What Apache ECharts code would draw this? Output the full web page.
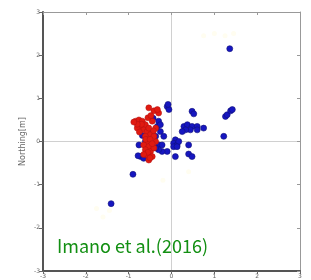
<!DOCTYPE html>
<html><head><meta charset="utf-8">
<script src="https://cdn.jsdelivr.net/npm/echarts@6/dist/echarts.min.js"></script>
<style>html,body{margin:0;padding:0;background:#fff}#c{width:311px;height:280px}</style>
</head><body><div id="c"></div>
<script>
var ticks = [-3, -2, -1, 0, 1, 2, 3];
var yName = 'Northing[m]';
var caption = 'Imano et al.(2016)';
var bluePoints = [
  [1.36,2.15],[-1.41,-1.44],[-0.90,-0.76],[1.22,0.12],
  [1.26,0.58],[1.30,0.62],[1.38,0.71],[1.42,0.74],
  [0.48,0.70],[0.52,0.64],
  [0.29,0.35],[0.37,0.39],[0.48,0.35],[0.60,0.35],[0.60,0.27],[0.44,0.27],[0.33,0.27],[0.25,0.23],[0.75,0.31],
  [0.09,0.04],[0.05,-0.04],[0.13,-0.08],[0.05,-0.12],[0.17,0.0],[0.13,-0.12],[0.40,-0.08],
  [-0.10,-0.23],[-0.22,-0.23],[0.09,-0.35],[0.40,-0.29],[0.48,-0.35],
  [-0.10,0.81],[-0.06,0.74],[-0.08,0.86],
  [-0.30,0.47],[-0.33,0.35],[-0.26,0.23],[-0.18,0.12],[-0.45,0.20],[-0.26,0.39],[-0.43,0.54],
  [-0.76,-0.08],[-0.72,-0.35],[-0.65,-0.39],[-0.30,-0.08],[-0.22,-0.08],[-0.30,-0.19],[-0.37,-0.15],[-0.37,0.12],
  [-0.61,0.0],[-0.68,0.14],[-0.78,-0.33]
];
var redPoints = [
  [-0.53,0.78],[-0.41,0.71],[-0.30,0.66],[-0.33,0.74],
  [-0.84,0.47],[-0.76,0.50],[-0.68,0.47],[-0.72,0.35],[-0.80,0.31],[-0.61,0.39],[-0.65,0.27],[-0.57,0.23],
  [-0.53,0.31],[-0.45,0.47],[-0.49,0.16],[-0.61,0.12],[-0.57,0.0],[-0.65,-0.08],[-0.53,-0.12],[-0.61,-0.19],
  [-0.49,-0.23],[-0.57,-0.31],[-0.45,-0.35],[-0.53,-0.43],[-0.41,-0.15],[-0.37,0.0],[-0.41,0.12],[-0.37,0.31],
  [-0.70,0.40],[-0.75,0.22],[-0.60,0.05],[-0.50,0.05],[-0.45,-0.05],[-0.55,-0.25],[-0.65,-0.30],[-0.50,-0.38],
  [-0.42,0.25],[-0.80,0.40],[-0.88,0.45],[-0.55,0.55],[-0.48,0.60]
];
var faintPoints = [
  [0.75,2.45],[1.0,2.5],[1.25,2.45],[1.45,2.5],
  [-1.75,-1.55],[-1.6,-1.75],[-1.45,-1.6],[-0.2,-0.9],[0.4,-0.7]
];
var chart = echarts.init(document.getElementById('c'), null, {renderer: 'canvas'});
var splitColors = ticks.map(function (t) { return t === 0 ? '#d0d0d0' : 'rgba(0,0,0,0)'; });
var labelStyle = {fontSize: 6, color: '#666', fontFamily: 'DejaVu Sans'};
chart.setOption({
  animation: false,
  backgroundColor: '#fff',
  grid: {left: 43, right: 11, top: 12, bottom: 9},
  xAxis: [{
    type: 'value', min: -3, max: 3, interval: 1, position: 'bottom',
    axisLine: {onZero: false, lineStyle: {color: '#555', width: 2}},
    axisTick: {show: true, inside: false, length: 3, lineStyle: {color: '#666'}},
    axisLabel: Object.assign({margin: 2}, labelStyle),
    splitLine: {show: true, lineStyle: {color: splitColors, width: 1}}
  }, {
    type: 'value', min: -3, max: 3, interval: 1, position: 'top',
    axisLine: {show: true, onZero: false, lineStyle: {color: '#999', width: 1}},
    axisTick: {show: true, inside: true, length: 3, lineStyle: {color: '#999'}},
    axisLabel: {show: false}, splitLine: {show: false}
  }],
  yAxis: [{
    type: 'value', min: -3, max: 3, interval: 1, position: 'left',
    name: yName, nameLocation: 'middle', nameGap: 16, nameRotate: 90, nameMoveOverlap: false,
    nameTextStyle: {fontSize: 8, color: '#666', fontFamily: 'DejaVu Sans'},
    axisLine: {onZero: false, lineStyle: {color: '#555', width: 2}},
    axisTick: {show: true, inside: false, length: 4, lineStyle: {color: '#666'}},
    axisLabel: Object.assign({margin: 3}, labelStyle),
    splitLine: {show: true, lineStyle: {color: splitColors, width: 1}}
  }, {
    type: 'value', min: -3, max: 3, interval: 1, position: 'right',
    axisLine: {show: true, onZero: false, lineStyle: {color: '#999', width: 1}},
    axisTick: {show: true, inside: true, length: 3, lineStyle: {color: '#999'}},
    axisLabel: {show: false}, splitLine: {show: false}
  }],
  graphic: [{
    type: 'text', left: 57, top: 237,
    style: {text: caption, fill: '#128f12', fontSize: 18, fontFamily: 'Noto Sans CJK JP'}
  }],
  series: [{
    type: 'scatter', data: faintPoints, symbolSize: 5,
    itemStyle: {color: '#fffdf0', opacity: 1}
  }, {
    type: 'scatter', data: bluePoints, symbolSize: 6,
    itemStyle: {color: '#1616c0', borderColor: '#10107a', borderWidth: 0.6, opacity: 1}
  }, {
    type: 'scatter', data: redPoints, symbolSize: 6,
    itemStyle: {color: '#e01a10', borderColor: '#b01010', borderWidth: 0.5, opacity: 1}
  }]
});
</script></body></html>
